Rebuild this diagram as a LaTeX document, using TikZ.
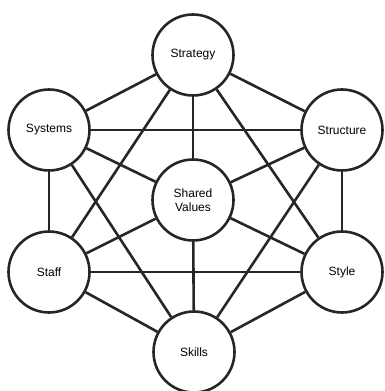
\documentclass[tikz,border=0pt]{standalone}
\usepackage{fontspec}
\setmainfont{Liberation Sans}
\begin{document}
\begin{tikzpicture}[x=1pt,y=1pt,
  elem/.style={circle,draw=black!85,line width=2.6pt,fill=white,minimum size=81pt,inner sep=0pt,align=center,font=\fontsize{12}{14.5}\selectfont},
  link/.style={draw=black!85,line width=2.6pt}]
\useasboundingbox (0,0) rectangle (385,391);
\node[elem] (strategy) at (193,336) {Strategy};
\node[elem] (systems) at (49,261) {Systems};
\node[elem] (structure) at (342,261) {Structure};
\node[elem] (shared) at (193,191) {Shared\\Values};
\node[elem] (staff) at (49,119) {Staff};
\node[elem] (style) at (342,119) {Style};
\node[elem] (skills) at (194,39) {Skills};
\foreach \a/\b in {strategy/systems,strategy/structure,strategy/shared,strategy/staff,strategy/style,
  systems/structure,systems/shared,systems/staff,systems/skills,
  structure/shared,structure/style,structure/skills,
  shared/staff,shared/style,shared/skills,
  staff/style,staff/skills,style/skills}
  \draw[link] (\a) -- (\b);
\end{tikzpicture}
\end{document}
